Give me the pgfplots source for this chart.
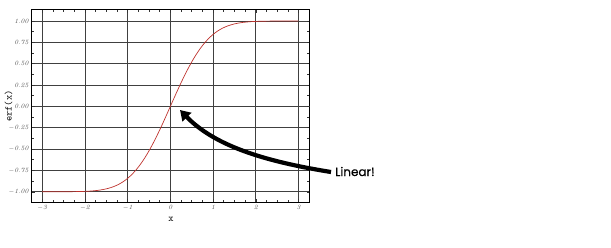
\documentclass[border=0pt]{standalone}
\usepackage{pgfplots}
\pgfplotsset{compat=1.18}
\usepackage{fontspec}
\newfontfamily\hand{Poppins}[FakeBold=0.6]
\usetikzlibrary{arrows.meta}
\definecolor{curve}{RGB}{190,50,45}
\definecolor{tlab}{RGB}{80,80,80}
\begin{document}
\begin{tikzpicture}
\path[use as bounding box] (0,0) rectangle (611pt,247pt);
\begin{axis}[
  scale only axis, width=278pt, height=192pt,
  at={(32pt,45pt)}, anchor=south west,
  xmin=-3.24, xmax=3.27, ymin=-1.12, ymax=1.129,
  xtick={-3,-2,-1,0,1,2,3},
  ytick={-1,-0.75,-0.5,-0.25,0,0.25,0.5,0.75,1},
  minor x tick num=3, minor y tick num=1,
  tick align=inside, major tick length=3pt, minor tick length=2.5pt,
  tick style={black!80, line width=0.5pt},
  grid=major, major grid style={black!75, line width=0.6pt},
  axis line style={line width=1pt},
  extra x ticks={0}, extra x tick labels={},
  extra y ticks={0}, extra y tick labels={},
  extra tick style={grid style={black, line width=0.9pt}},
  xticklabel={$\mathit{\pgfmathprintnumber{\tick}}$},
  yticklabel={$\mathit{\pgfmathprintnumber[fixed,fixed zerofill,precision=2]{\tick}}$},
  tick label style={font=\fontsize{6.5}{7}\selectfont, text=tlab},
  xlabel={\texttt{x}}, ylabel={\texttt{erf(x)}},
  label style={font=\fontsize{10}{11}\selectfont},
  xlabel style={at={(axis description cs:0.5,0)}, anchor=center, yshift=-17.5pt},
  ylabel style={at={(axis description cs:0,0.5)}, anchor=center, yshift=23.5pt},
]
\addplot[curve, line width=0.7pt, smooth] coordinates {
(-3.0,-1.0000) (-2.8,-0.9999) (-2.6,-0.9998) (-2.4,-0.9993) (-2.2,-0.9981)
(-2.0,-0.9953) (-1.9,-0.9928) (-1.8,-0.9891) (-1.7,-0.9838) (-1.6,-0.9763)
(-1.5,-0.9661) (-1.4,-0.9523) (-1.3,-0.9340) (-1.2,-0.9103) (-1.1,-0.8802)
(-1.0,-0.8427) (-0.9,-0.7969) (-0.8,-0.7421) (-0.7,-0.6778) (-0.6,-0.6039)
(-0.5,-0.5205) (-0.4,-0.4284) (-0.3,-0.3286) (-0.2,-0.2227) (-0.1,-0.1125)
(0,0)
(0.1,0.1125) (0.2,0.2227) (0.3,0.3286) (0.4,0.4284) (0.5,0.5205)
(0.6,0.6039) (0.7,0.6778) (0.8,0.7421) (0.9,0.7969) (1.0,0.8427)
(1.1,0.8802) (1.2,0.9103) (1.3,0.9340) (1.4,0.9523) (1.5,0.9661)
(1.6,0.9763) (1.7,0.9838) (1.8,0.9891) (1.9,0.9928) (2.0,0.9953)
(2.2,0.9981) (2.4,0.9993) (2.6,0.9998) (2.8,0.9999) (3.0,1.0000)
};
\end{axis}
\draw[line width=4.2pt, -{Triangle[length=10pt,width=12pt]}]
  (331pt,75pt) .. controls (262pt,86pt) and (214pt,102pt) .. (180pt,137pt);
\node[anchor=west, font=\hand\fontsize{12}{12}\selectfont, text=black, inner sep=0pt] at (335pt,75.5pt) {Linear!};
\end{tikzpicture}
\end{document}
